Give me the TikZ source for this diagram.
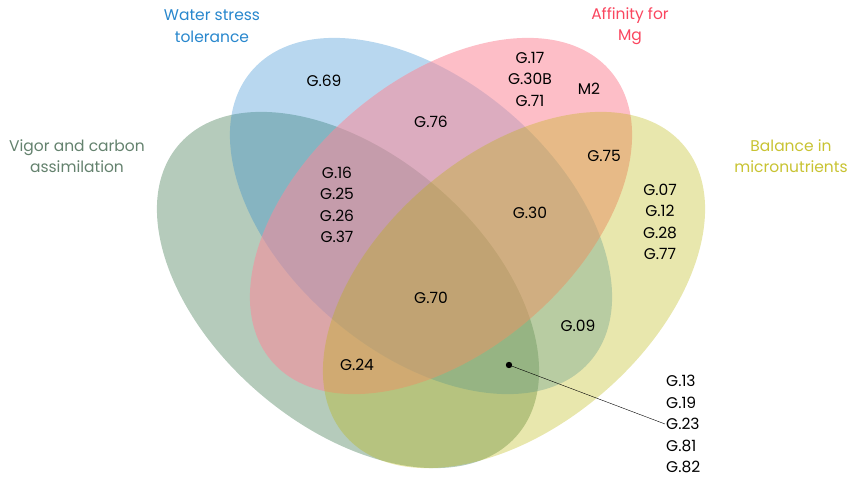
\documentclass[tikz,border=0pt]{standalone}
\usepackage{fontspec}
\setmainfont{Poppins}
\usepackage{tikz}
\definecolor{vigorc}{RGB}{100,130,110}
\definecolor{vigorfill}{RGB}{90,140,105}
\definecolor{waterc}{RGB}{40,135,205}
\definecolor{mgc}{RGB}{250,70,95}
\definecolor{mgfill}{RGB}{251,137,153}
\definecolor{balc}{RGB}{200,195,50}
\definecolor{balfill}{RGB}{185,180,0}

\begin{document}
\begin{tikzpicture}[x=1pt,y=-1pt,
    set/.style={fill opacity=#1},
    lbl/.style={align=center,font=\fontsize{15.5}{21.5}\selectfont,inner sep=1pt},
    ttl/.style={lbl,text=#1}]

  \useasboundingbox (0,0) rectangle (854,486);

  % the four sets
  \fill[vigorfill,set=0.45,rotate around={-40.6:(348,290)}] (348,290) ellipse [x radius=223, y radius=136];
  \fill[waterc,set=0.33,rotate around={-40.6:(421,216)}] (421,216) ellipse [x radius=223, y radius=136];
  \fill[mgfill,set=0.55,rotate around={40.6:(441,216)}] (441,216) ellipse [x radius=223, y radius=136];
  \fill[balfill,set=0.32,rotate around={40.6:(514,290)}] (514,290) ellipse [x radius=223, y radius=136];

  % set names
  \node[ttl=waterc] (water) at (212,26) {Water stress\\tolerance};
  \node[ttl=mgc] (mg) at (630,26) {Affinity for\\Mg};
  \node[ttl=vigorc] (vigor) at (77,156) {Vigor and carbon\\assimilation};
  \node[ttl=balc] (bal) at (791,156) {Balance in\\micronutrients};

  % regions
  \node[lbl] (g69) at (324,81) {G.69};
  \node[lbl] (g76) at (431,122) {G.76};
  \node[lbl] (g17) at (530,79) {G.17\\G.30B\\G.71};
  \node[lbl] (m2) at (589,89) {M2};
  \node[lbl] (g75) at (604,156) {G.75};
  \node[lbl] (g16) at (337,205) {G.16\\G.25\\G.26\\G.37};
  \node[lbl] (g30) at (530,213) {G.30};
  \node[lbl] (g07) at (660,222) {G.07\\G.12\\G.28\\G.77};
  \node[lbl] (g70) at (431,298) {G.70};
  \node[lbl] (g09) at (578,326) {G.09};
  \node[lbl] (g24) at (357,365) {G.24};
  \node[lbl,anchor=west,align=left] (list) at (665,424) {G.13\\G.19\\G.23\\G.81\\G.82};

  \coordinate (dot) at (509,365);
  \fill (dot) circle [radius=3.2];
  \draw[thin] (dot) -- (list.west);

\end{tikzpicture}
\end{document}
